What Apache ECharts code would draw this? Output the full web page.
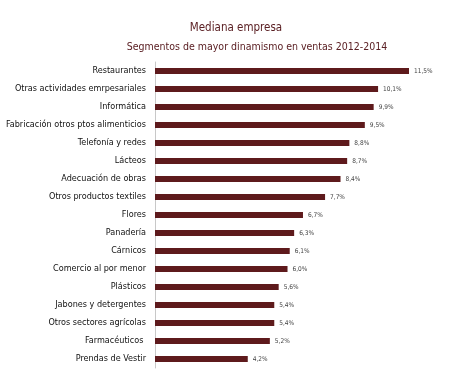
<!DOCTYPE html>
<html><head><meta charset="utf-8">
<script src="https://cdn.jsdelivr.net/npm/echarts@6/dist/echarts.min.js"></script>
<style>html,body{margin:0;padding:0;background:#fff}#c{width:474px;height:380px}</style>
</head><body><div id="c"></div>
<script>
var categories = ["Restaurantes","Otras actividades emrpesariales","Informática","Fabricación otros ptos alimenticios","Telefonía y redes","Lácteos","Adecuación de obras","Otros productos textiles","Flores","Panadería","Cárnicos","Comercio al por menor","Plásticos","Jabones y detergentes","Otros sectores agrícolas","Farmacéuticos ","Prendas de Vestir"];
var values = [11.5,10.1,9.9,9.5,8.8,8.7,8.4,7.7,6.7,6.3,6.1,6.0,5.6,5.4,5.4,5.2,4.2];
var titleLines = ["Mediana empresa","Segmentos de mayor dinamismo en ventas 2012-2014"];
var chart = echarts.init(document.getElementById('c'), null, {renderer:'canvas'});
var fam = "'DejaVu Sans Condensed',sans-serif";
chart.setOption({
  animation:false,
  title:[
    {text:titleLines[0], left:231, top:17, textAlign:'center', textStyle:{fontFamily:fam, fontSize:11.5, fontWeight:'normal', color:'#5b2024'}},
    {text:titleLines[1], left:252, top:37, textAlign:'center', textStyle:{fontFamily:fam, fontSize:10.5, fontWeight:'normal', color:'#5b2024'}}
  ],
  grid:{left:155, right:65, top:62, bottom:12, containLabel:false, outerBoundsMode:'none'},
  xAxis:{type:'value', min:0, max:11.5, show:false},
  yAxis:{type:'category', data:categories, inverse:true,
    axisLine:{show:true, lineStyle:{color:'#c8c8c8', width:1}},
    axisTick:{show:false},
    axisLabel:{margin:9, fontFamily:fam, fontSize:9, color:'#111'}
  },
  series:[{type:'bar', data:values, barWidth:6,
    itemStyle:{color:'#5e1a1c'},
    label:{show:true, position:'right', distance:5, fontFamily:fam, fontSize:6.5, color:'#444',
      formatter:function(p){return p.value.toFixed(1).replace('.',',')+'%';}}
  }]
});
</script></body></html>
